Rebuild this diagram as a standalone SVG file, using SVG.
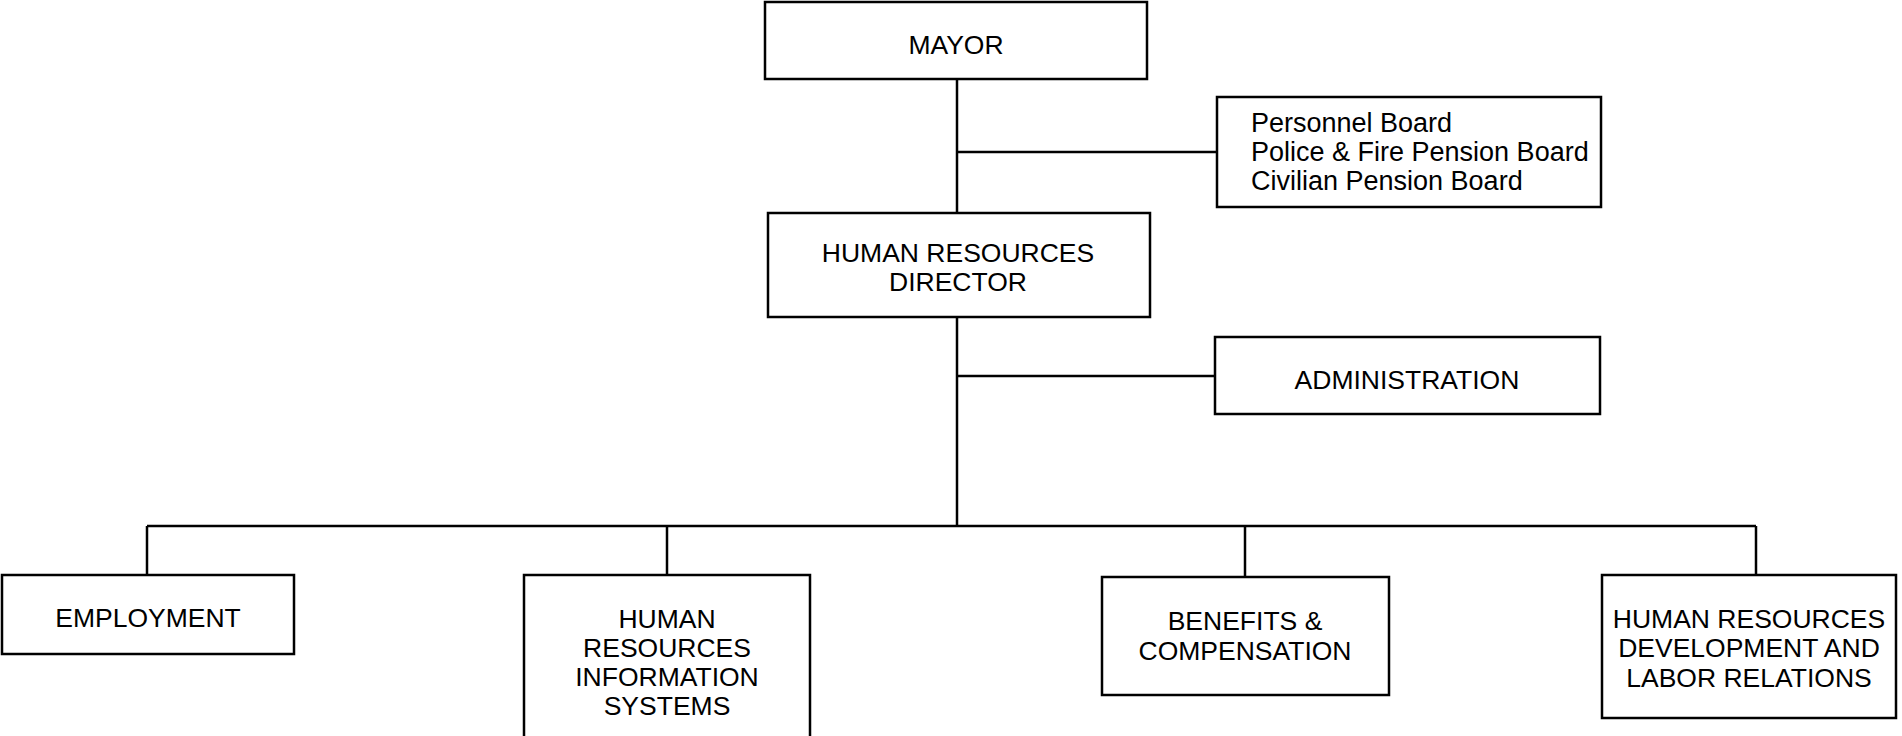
<svg xmlns="http://www.w3.org/2000/svg" width="1902" height="736" viewBox="0 0 1902 736">
<style>
.box{fill:#fff;stroke:#000;stroke-width:2.5}
.ln{fill:none;stroke:#000;stroke-width:2.5}
text{font-family:"Liberation Sans",Arial,sans-serif;font-size:26.5px;fill:#000}
.c{text-anchor:middle}
.b{font-size:27px}
</style>
<rect width="1902" height="736" fill="#fff"/>
<g id="connectors">
<line class="ln" x1="957" y1="79" x2="957" y2="213"/>
<line class="ln" x1="957" y1="152" x2="1217" y2="152"/>
<line class="ln" x1="957" y1="317" x2="957" y2="526"/>
<line class="ln" x1="957" y1="376" x2="1215" y2="376"/>
<line class="ln" x1="147" y1="526" x2="1756" y2="526"/>
<line class="ln" x1="147" y1="526" x2="147" y2="575"/>
<line class="ln" x1="667" y1="526" x2="667" y2="575"/>
<line class="ln" x1="1245" y1="526" x2="1245" y2="577"/>
<line class="ln" x1="1756" y1="526" x2="1756" y2="575"/>
</g>
<g id="mayor">
<rect class="box" x="765" y="2" width="382" height="77"/>
<text class="c" x="956" y="54">MAYOR</text>
</g>
<g id="boards">
<rect class="box" x="1217" y="97" width="384" height="110"/>
<text class="b" x="1251" y="132">Personnel Board</text>
<text class="b" x="1251" y="161">Police &amp; Fire Pension Board</text>
<text class="b" x="1251" y="190">Civilian Pension Board</text>
</g>
<g id="hr-director">
<rect class="box" x="768" y="213" width="382" height="104"/>
<text class="c" x="958" y="262">HUMAN RESOURCES</text>
<text class="c" x="958" y="291">DIRECTOR</text>
</g>
<g id="administration">
<rect class="box" x="1215" y="337" width="385" height="77"/>
<text class="c" x="1407" y="389">ADMINISTRATION</text>
</g>
<g id="employment">
<rect class="box" x="2" y="575" width="292" height="79"/>
<text class="c" x="148" y="627">EMPLOYMENT</text>
</g>
<g id="hris">
<rect class="box" x="524" y="575" width="286" height="170"/>
<text class="c" x="667" y="628">HUMAN</text>
<text class="c" x="667" y="657">RESOURCES</text>
<text class="c" x="667" y="686">INFORMATION</text>
<text class="c" x="667" y="715">SYSTEMS</text>
</g>
<g id="benefits">
<rect class="box" x="1102" y="577" width="287" height="118"/>
<text class="c" x="1245" y="630">BENEFITS &amp;</text>
<text class="c" x="1245" y="660">COMPENSATION</text>
</g>
<g id="hrdlr">
<rect class="box" x="1602" y="575" width="294" height="143"/>
<text class="c" x="1749" y="628">HUMAN RESOURCES</text>
<text class="c" x="1749" y="657">DEVELOPMENT AND</text>
<text class="c" x="1749" y="687">LABOR RELATIONS</text>
</g>
</svg>
